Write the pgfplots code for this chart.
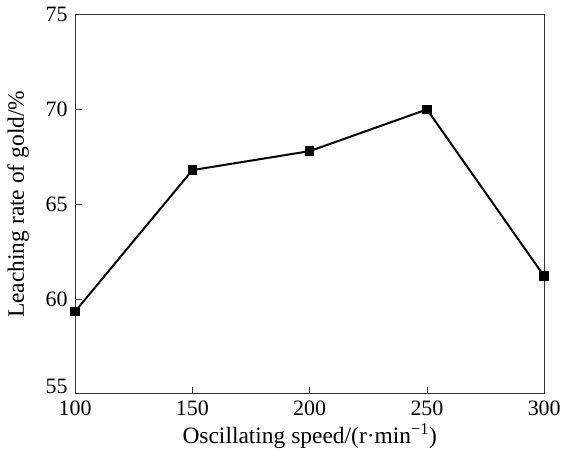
\documentclass[border=0pt]{standalone}
\usepackage{pgfplots}
\pgfplotsset{compat=1.18}
\usepackage{fontspec}
\setmainfont{Liberation Serif}
\begin{document}
\fontsize{22}{26}\selectfont
\begin{tikzpicture}
\begin{axis}[
    scale only axis,
    width=470pt, height=380pt,
    xmin=100, xmax=300, ymin=55, ymax=75,
    xtick={100,150,200,250,300},
    ytick={60,65,70,75},
    extra y ticks={55},
    extra y tick style={yticklabel style={yshift=7pt}, major tick length=0pt},
    tick align=inside,
    tick pos=left,
    major tick length=7pt,
    axis line style={line width=1.1pt, black!80},
    tick style={line width=0.9pt, black!80},
    /pgf/number format/assume math mode=true,
    ticklabel style={font=\fontsize{22}{26}\selectfont},
    label style={font=\fontsize{23.5}{28}\selectfont},
    xlabel={Oscillating speed/(r·min\textsuperscript{−1})},
    ylabel={Leaching rate of gold/\%},
    xlabel style={yshift=7pt},
    ylabel style={yshift=2pt},
]
\addplot[black, line width=2pt, mark=square*, mark size=3.8pt] coordinates {
(100,59.35) (150,66.8) (200,67.8) (250,70.0) (300,61.2)};
\end{axis}
\end{tikzpicture}
\end{document}
